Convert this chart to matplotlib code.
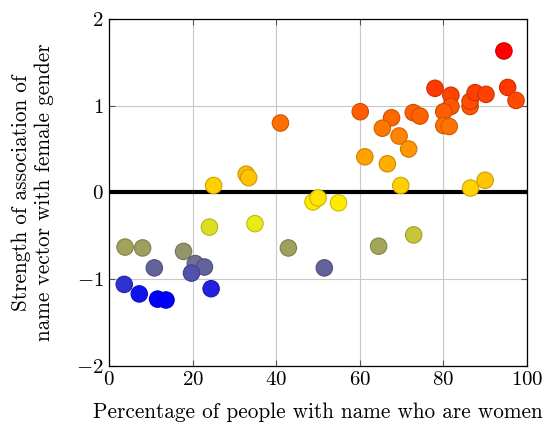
import matplotlib.pyplot as plt
import numpy as np
from matplotlib.colors import LinearSegmentedColormap

plt.rcParams['font.family'] = 'serif'
plt.rcParams['font.serif'] = ['cmr10']
plt.rcParams['mathtext.fontset'] = 'cm'
plt.rcParams['axes.formatter.use_mathtext'] = True

# %% data
pct_women = [3.8, 8.0, 10.8, 17.8, 20.6, 22.8, 19.7, 3.6, 7.2, 11.6,
             13.6, 24.4, 25.0, 32.8, 33.4, 24.0, 34.9, 42.9, 48.8, 50.0,
             54.9, 51.5, 64.5, 72.9, 69.8, 86.5, 90.0, 94.5, 78.0, 81.8,
             81.8, 80.1, 86.4, 86.4, 87.6, 90.2, 95.4, 97.4, 80.1, 81.4,
             60.1, 67.6, 65.4, 72.8, 74.4, 69.4, 71.7, 61.2, 66.6, 41.0]
assoc = [-0.63, -0.64, -0.87, -0.68, -0.82, -0.86, -0.93, -1.06, -1.17, -1.23,
         -1.24, -1.11, 0.08, 0.21, 0.17, -0.40, -0.36, -0.64, -0.11, -0.065,
         -0.12, -0.87, -0.62, -0.49, 0.08, 0.05, 0.14, 1.63, 1.20, 1.12,
         0.99, 0.93, 0.99, 1.05, 1.15, 1.13, 1.21, 1.06, 0.77, 0.76,
         0.93, 0.86, 0.74, 0.92, 0.88, 0.65, 0.50, 0.41, 0.33, 0.80]

x_ticks = [0, 20, 40, 60, 80, 100]
y_ticks = [-2, -1, 0, 1, 2]

# %% colours: pgfplots "hot" map, blue -> yellow -> orange -> red
hot = LinearSegmentedColormap.from_list(
    'pgf_hot', [(0, 0, 1), (1, 1, 0), (1, 0.5, 0), (1, 0, 0)])
y = np.array(assoc)
norm = (y - y.min()) / (y.max() - y.min())
fills = hot(norm)
edges = fills.copy()
edges[:, :3] *= 0.8

# %% plot
fig = plt.figure(figsize=(5.46, 4.29), dpi=100)
ax = fig.add_axes([0.2, 0.147, 0.765, 0.809])
ax.set_axisbelow(True)

ax.grid(True, color='#c8c8c8', linewidth=0.8)
ax.plot([0, 100], [0, 0], color='black', linewidth=3.0, zorder=2,
        solid_capstyle='butt')
ax.scatter(pct_women, assoc, s=140, c=fills, edgecolors=edges,
           linewidths=0.8, zorder=3)

ax.set_xlim(0, 100)
ax.set_ylim(-2, 2)
ax.set_xticks(x_ticks)
ax.set_yticks(y_ticks)
ax.tick_params(direction='in', top=True, right=True, length=4,
               color='#555555', labelsize=15, pad=4)
for sp in ax.spines.values():
    sp.set_linewidth(0.9)
    sp.set_zorder(4)

ax.set_xlabel('Percentage of people with name who are women', fontsize=15.3,
              labelpad=9)
ax.set_ylabel('Strength of association of\nname vector with female gender',
              fontsize=15.3, labelpad=16)

fig.savefig('out.png', dpi=100)
